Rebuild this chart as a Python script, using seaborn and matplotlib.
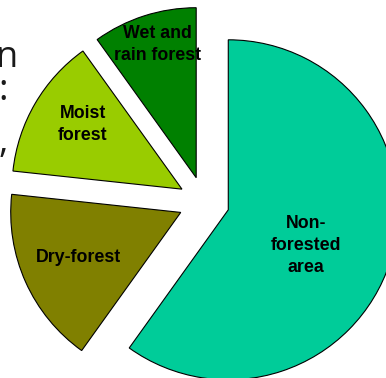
import matplotlib
matplotlib.use("Agg")
import matplotlib.pyplot as plt
import seaborn as sns

# Forest cover shares (percent of land area), counter-clockwise from 12 o'clock
categories = ["Wet and\nrain forest", "Moist\nforest", "Dry-forest", "Non-\nforested\narea"]
shares = [9.9, 13.4, 16.8, 59.9]
colors = ["#008000", "#99CC00", "#808000", "#00CC99"]

# Label anchor points in pie units (radius = 1)
label_xy = [(-0.276, 0.925), (-0.712, 0.457), (-0.741, -0.324), (0.600, -0.255)]

# Fragments of the neighbouring slide text that run in from the left edge
side_text = ["n", ":", ","]
side_xy = [(18, 67), (8, 100), (8, 152)]  # right edge / baseline, pixels from top-left

sns.set_theme(style="white")
plt.rcParams["font.family"] = ["Liberation Sans", "DejaVu Sans"]

W, H, DPI = 386, 378, 100
fig = plt.figure(figsize=(W / DPI, H / DPI), dpi=DPI)
ax = fig.add_axes([0, 0, 1, 1])

wedges, _ = ax.pie(
    shares,
    colors=colors,
    startangle=90,
    counterclock=True,
    explode=[0.15] * len(shares),
    wedgeprops=dict(edgecolor="black", linewidth=0.8),
)

for (x, y), lab in zip(label_xy, categories):
    ax.text(x, y, lab, ha="center", va="center", fontsize=12.8,
            fontweight="bold", color="black", linespacing=1.4)

# Pie centre sits at (204, 202) px with a 170 px radius
R, cx, cy = 170.0, 204.0, 202.0
ax.set_xlim(-cx / R, (W - cx) / R)
ax.set_ylim(-(H - cy) / R, cy / R)
ax.set_aspect("auto")
ax.axis("off")

for s, (px, py) in zip(side_text, side_xy):
    fig.text(px / W, 1 - py / H, s, ha="right", va="baseline", fontsize=26,
             family=["Open Sans", "DejaVu Sans"], color="#1a1a1a")

fig.savefig("out.png", dpi=DPI)
